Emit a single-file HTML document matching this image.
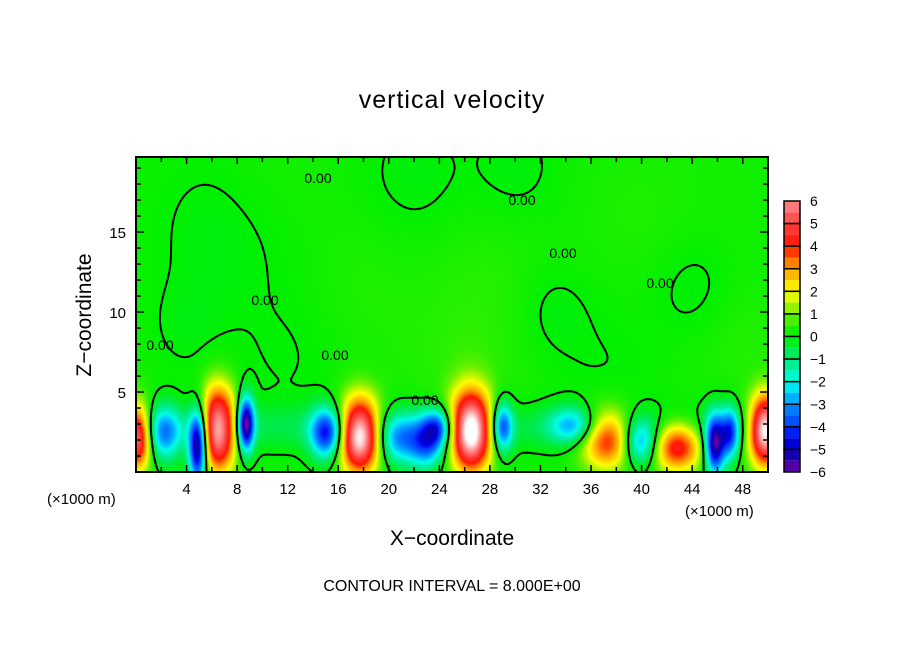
<!DOCTYPE html>
<html><head><meta charset="utf-8"><style>
body{margin:0;background:#fff;}
#wrap{position:relative;width:904px;height:654px;overflow:hidden;font-family:"Liberation Sans","DejaVu Sans",sans-serif;}
.t{position:absolute;white-space:nowrap;color:#000;}
</style></head><body>
<div id="wrap">
<div class="t" style="left:0;width:904px;text-align:center;top:86px;font-size:25px;letter-spacing:1px;">vertical velocity</div>
<canvas id="cv" width="632" height="315" style="position:absolute;left:136px;top:157px;"></canvas>
<svg id="sv" width="904" height="654" style="position:absolute;left:0;top:0;"></svg>
<div class="t" style="left:0;width:904px;text-align:center;top:527px;font-size:21px;">X−coordinate</div>
<div class="t" style="left:85px;top:315px;font-size:21px;transform:translate(-50%,-50%) rotate(-90deg);">Z−coordinate</div>
<div class="t" style="left:47px;top:491px;font-size:15px;">(×1000 m)</div>
<div class="t" style="left:685px;top:503px;font-size:15px;">(×1000 m)</div>
<div class="t" style="left:0;width:904px;text-align:center;top:578px;font-size:16px;">CONTOUR INTERVAL = 8.000E+00</div>
</div>
<script>
// blob data: x (km), z (km), amplitude, sx, sz
const blobX = [0.1, 2.2, 4.9, 6.5, 8.7, 15.1, 17.7, 20.7, 23.0, 23.9, 26.5, 29.0, 34.6, 37.3, 39.9, 42.8, 45.8, 47.0, 49.8];
const blobZ = [2.2, 2.4, 1.6, 2.7, 3.0, 2.4, 2.3, 2.0, 1.8, 2.8, 2.6, 2.8, 2.9, 2.1, 1.8, 1.6, 1.7, 2.4, 2.6];
const blobA = [6.0, -3.0, -6.5, 6.8, -6.0, -4.4, 7.5, -2.8, -3.5, -2.8, 8.0, -3.8, -2.6, 4.4, -3.4, 4.4, -5.8, -3.8, 7.5];
const blobSX = [0.8, 1.0, 0.5, 1.0, 0.45, 0.9, 1.15, 1.2, 1.0, 0.8, 1.15, 0.55, 1.3, 1.5, 1.0, 1.4, 0.55, 0.5, 0.9];
const blobSZ = [1.4, 1.2, 1.6, 1.8, 1.2, 1.1, 1.6, 1.1, 1.1, 0.8, 1.7, 1.1, 0.8, 1.3, 1.0, 1.1, 1.3, 1.1, 1.5];
// weak background anomalies (produce upper zero contours)
const weakX = [7, 22, 30, 44, 12, 26, 37, 4, 18, 33, 48, 10, 40, 28];
const weakZ = [15, 18.5, 19, 11.5, 7, 7.5, 6.5, 9, 12, 10, 8, 18, 16, 13];
const weakA = [-0.35, -0.3, -0.3, -0.3, -0.2, 0.3, -0.2, -0.25, 0.15, -0.3, 0.2, 0.15, 0.15, 0.15];
const weakS = [4, 3, 2.5, 2.2, 3, 3.5, 3, 2, 3, 2, 2.5, 3, 3, 3];
const xTicks = [4, 8, 12, 16, 20, 24, 28, 32, 36, 40, 44, 48];
const zTicks = [5, 10, 15];
const cbLevels = [6,5,4,3,2,1,0,-1,-2,-3,-4,-5,-6];

const X0=136, Y0=157, W=632, H=315, XMAX=50, ZMAX=H/16;
const BAND_Z=2.8, BAND_S=1.0, BAND_A=-0.75;
const sx = x => X0 + x/XMAX*W;
const sz = z => Y0 + H - z*16;
function field(x,z){
  let v=0.2;
  const bz=(z-BAND_Z)/BAND_S;
  v+=BAND_A*Math.exp(-0.5*bz*bz);
  for(let i=0;i<blobX.length;i++){
    const dx=(x-blobX[i])/blobSX[i], dz=(z-blobZ[i])/blobSZ[i];
    v+=blobA[i]*Math.exp(-0.5*(dx*dx+dz*dz));
  }
  for(let i=0;i<weakX.length;i++){
    const dx=(x-weakX[i])/weakS[i], dz=(z-weakZ[i])/weakS[i];
    v+=weakA[i]*Math.exp(-0.5*(dx*dx+dz*dz));
  }
  return v;
}
const cmapV=[-6,-5.5,-5,-4.5,-4,-3.5,-3,-2.5,-2,-1.5,-1,-0.5,0,0.5,1,1.5,2,2.5,3,3.5,4,5,6,7];
const cmapC=[[128,0,176],[40,0,160],[0,0,190],[0,0,240],[0,64,255],[0,100,255],[0,150,255],[0,200,255],[0,255,230],[0,240,176],[0,235,120],[0,235,60],[0,240,0],[40,240,0],[110,240,0],[190,245,0],[255,255,0],[255,208,0],[255,160,0],[255,96,0],[255,20,0],[255,64,64],[255,144,144],[255,255,255]];
function color(v){
  if(v<=cmapV[0])return cmapC[0];
  for(let i=1;i<cmapV.length;i++){
    if(v<=cmapV[i]){const t=(v-cmapV[i-1])/(cmapV[i]-cmapV[i-1]);
      return cmapC[i-1].map((c,k)=>c+(cmapC[i][k]-c)*t);}
  }
  return cmapC[cmapC.length-1];
}
const ctx=document.getElementById('cv').getContext('2d');
const img=ctx.createImageData(W,H);
for(let py=0;py<H;py++)for(let px=0;px<W;px++){
  const x=(px+0.5)/W*XMAX, z=(H-py-0.5)/16;
  const c=color(field(x,z)); const o=(py*W+px)*4;
  img.data[o]=c[0];img.data[o+1]=c[1];img.data[o+2]=c[2];img.data[o+3]=255;
}
ctx.putImageData(img,0,0);

const NS='http://www.w3.org/2000/svg';
const sv=document.getElementById('sv');
function mk(tag,attrs){const e=document.createElementNS(NS,tag);for(const k in attrs)e.setAttribute(k,attrs[k]);sv.appendChild(e);return e;}
const step=3, nx=Math.ceil(W/step), nz=Math.ceil(H/step);
const g=[];
for(let j=0;j<=nz;j++){g[j]=[];for(let i=0;i<=nx;i++){g[j][i]=field(i*step/W*XMAX,(H-j*step)/16);}}
let d='';
function lerp(a,b){return a/(a-b);}
for(let j=0;j<nz;j++)for(let i=0;i<nx;i++){
  const a=g[j][i],b=g[j][i+1],c=g[j+1][i+1],e=g[j+1][i];
  const pts=[];
  if((a>0)!=(b>0))pts.push([i+lerp(a,b),j]);
  if((b>0)!=(c>0))pts.push([i+1,j+lerp(b,c)]);
  if((e>0)!=(c>0))pts.push([i+lerp(e,c),j+1]);
  if((a>0)!=(e>0))pts.push([i,j+lerp(a,e)]);
  for(let k=0;k+1<pts.length;k+=2){
    const p=pts[k],q=pts[k+1];
    const x1=Math.min(X0+p[0]*step,X0+W),y1=Math.min(Y0+p[1]*step,Y0+H),x2=Math.min(X0+q[0]*step,X0+W),y2=Math.min(Y0+q[1]*step,Y0+H);
    d+=`M${x1.toFixed(1)},${y1.toFixed(1)}L${x2.toFixed(1)},${y2.toFixed(1)}`;
  }
}
const cl=mk('path',{d:d,stroke:'#000','stroke-width':2,fill:'none','stroke-linecap':'round'});


const fr=mk('rect',{x:X0,y:Y0,width:W,height:H,fill:'none',stroke:'#000','stroke-width':2});


for(let x=2;x<XMAX;x+=2){
  const len = x%4===0?7:5;
  const t1=mk('line',{x1:sx(x),x2:sx(x),y1:Y0+H,y2:Y0+H-len,stroke:'#000','stroke-width':1.5});
  
  
  const t2=mk('line',{x1:sx(x),x2:sx(x),y1:Y0,y2:Y0+len,stroke:'#000','stroke-width':1.5});
  
  
}
for(let z=1;z<ZMAX;z+=1){
  const len = z%5===0?8:5;
  const t1=mk('line',{x1:X0,x2:X0+len,y1:sz(z),y2:sz(z),stroke:'#000','stroke-width':1.5});
  
  
  const t2=mk('line',{x1:X0+W,x2:X0+W-len,y1:sz(z),y2:sz(z),stroke:'#000','stroke-width':1.5});
  
  
}
xTicks.forEach(x=>{
  const t=mk('text',{x:sx(x),y:494,'text-anchor':'middle','font-size':15,'font-family':'Liberation Sans, sans-serif'});
  t.textContent=x;
  
  
});
zTicks.forEach(z=>{
  const t=mk('text',{x:126,y:sz(z)+6,'text-anchor':'end','font-size':15,'font-family':'Liberation Sans, sans-serif'});
  t.textContent=z;
  
  
});
[[318,183],[522,205],[563,258],[660,288],[265,305],[160,350],[335,360],[425,405]].forEach(p=>{
  const t=mk('text',{x:p[0],y:p[1],'text-anchor':'middle','font-size':14,'font-family':'Liberation Sans, sans-serif'});
  t.textContent='0.00';
  
  
});
const CBX=784, CBW=16, CBT=201, CBB=472, nb=cbLevels.length-1, bh=(CBB-CBT)/nb;
for(let i=0;i<nb;i++){
  const hi=cbLevels[i], lo=cbLevels[i+1];
  const c1=color(hi-0.25), c2=color(lo+0.25);
  const y=CBT+i*bh;
  const r1=mk('rect',{x:CBX,y:y,width:CBW,height:bh/2,fill:`rgb(${c1.map(Math.round)})`});
  
  
  const r2=mk('rect',{x:CBX,y:y+bh/2,width:CBW,height:bh/2,fill:`rgb(${c2.map(Math.round)})`});
  
  
  const b=mk('rect',{x:CBX,y:y,width:CBW,height:bh,fill:'none',stroke:'#000','stroke-width':1.5});
  
  
}
cbLevels.forEach((v,i)=>{
  const t=mk('text',{x:810,y:CBT+i*bh+5,'font-size':14,'font-family':'Liberation Sans, sans-serif'});
  t.textContent=v<0?'−'+(-v):String(v);
  
  
});
</script>
</body></html>
